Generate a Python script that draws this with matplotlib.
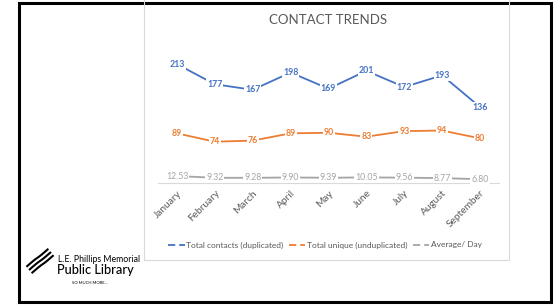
import numpy as np
import matplotlib.pyplot as plt
from matplotlib.lines import Line2D
from matplotlib.patches import Rectangle

plt.rcParams['font.family'] = ['Lato', 'DejaVu Sans']

# data
months = ["January", "February", "March", "April", "May", "June", "July", "August", "September"]
total_contacts = [213, 177, 167, 198, 169, 201, 172, 193, 136]
total_unique = [89, 74, 76, 89, 90, 83, 93, 94, 80]
avg_day = [12.53, 9.32, 9.28, 9.90, 9.39, 10.05, 9.56, 8.77, 6.80]

BLUE = "#4472C4"
ORANGE = "#ED7D31"
GRAY = "#A5A5A5"
TEXT = "#595959"

W, H = 556, 305
fig = plt.figure(figsize=(W / 100, H / 100), dpi=100)

# outer black frame and chart area border
fig.patches.append(Rectangle((19 / W, 1 - 302 / H), 532 / W, 299 / H, transform=fig.transFigure,
                             fill=False, edgecolor="black", linewidth=2.2, zorder=0))
fig.patches.append(Rectangle((144 / W, 1 - 260 / H), 365 / W, 262 / H, transform=fig.transFigure,
                             fill=False, edgecolor="#D9D9D9", linewidth=0.8, zorder=0))

ax = fig.add_axes([158 / W, 1 - 183 / H, 341 / W, (183 - 43.5) / H])
x = np.arange(len(months))

series = [(total_contacts, BLUE, "Total contacts (duplicated)", "{:d}"),
          (total_unique, ORANGE, "Total unique (unduplicated)", "{:d}"),
          (avg_day, GRAY, "Average/ Day", "{:.2f}")]

for vals, col, lab, fmt in series:
    ax.plot(x, vals, color=col, linewidth=1.3, label=lab, zorder=2)
    for xi, v in zip(x, vals):
        ax.text(xi, v, fmt.format(v), color=col, fontsize=6.3,
                fontweight="bold" if col != GRAY else "normal",
                ha="center", va="center", zorder=3,
                bbox=dict(facecolor="white", edgecolor="none", pad=0.6))

ax.set_xlim(-0.5, len(months) - 0.5)
ax.set_ylim(0, 250)
ax.set_yticks([])
ax.set_xticks(x)
ax.set_xticklabels(months, rotation=45, ha="right", rotation_mode="anchor",
                   fontsize=7.3, color=TEXT)
ax.tick_params(axis="x", length=0, pad=4)
for s in ["top", "right", "left"]:
    ax.spines[s].set_visible(False)
ax.spines["bottom"].set_color("#D9D9D9")
ax.spines["bottom"].set_linewidth(0.8)
ax.patch.set_alpha(0)

fig.text(328 / W, 1 - 20 / H, "CONTACT TRENDS", ha="center", va="center",
         fontsize=9.5, color=TEXT)

handles = [Line2D([0], [0], color=c, linewidth=1.3, linestyle=(0, (4, 2.2)))
           for _, c, _, _ in series]
fig.legend(handles, [s[2] for s in series], loc="center", bbox_to_anchor=(325 / W, 1 - 245 / H),
           ncol=3, frameon=False, fontsize=6, labelcolor=TEXT, handlelength=2.0,
           handletextpad=0.2, columnspacing=0.6)

# logo: three parallel wavy diagonal strokes
t = np.linspace(0, 1, 40)
for k in [-1, 0, 1]:
    xs = 29 + 22 * t + 2.6 * k + 1.5 * np.sin(2 * np.pi * t)
    ys = 270 - 18 * t + 3.2 * k - 1.5 * np.sin(2 * np.pi * t)
    fig.lines.append(Line2D(xs / W, 1 - ys / H, transform=fig.transFigure,
                            color="black", linewidth=1.5, solid_capstyle="butt"))
fig.text(58 / W, 1 - 259 / H, "L.E. Phillips Memorial", fontsize=6.3, color="black",
         ha="left", va="center")
fig.text(57 / W, 1 - 270 / H, "Public Library", fontsize=9.2, color="black",
         ha="left", va="center", fontweight="medium")
fig.text(72 / W, 1 - 283 / H, "SO MUCH MORE...", fontsize=3, color="black",
         ha="left", va="center")

fig.savefig("out.png", dpi=100)
